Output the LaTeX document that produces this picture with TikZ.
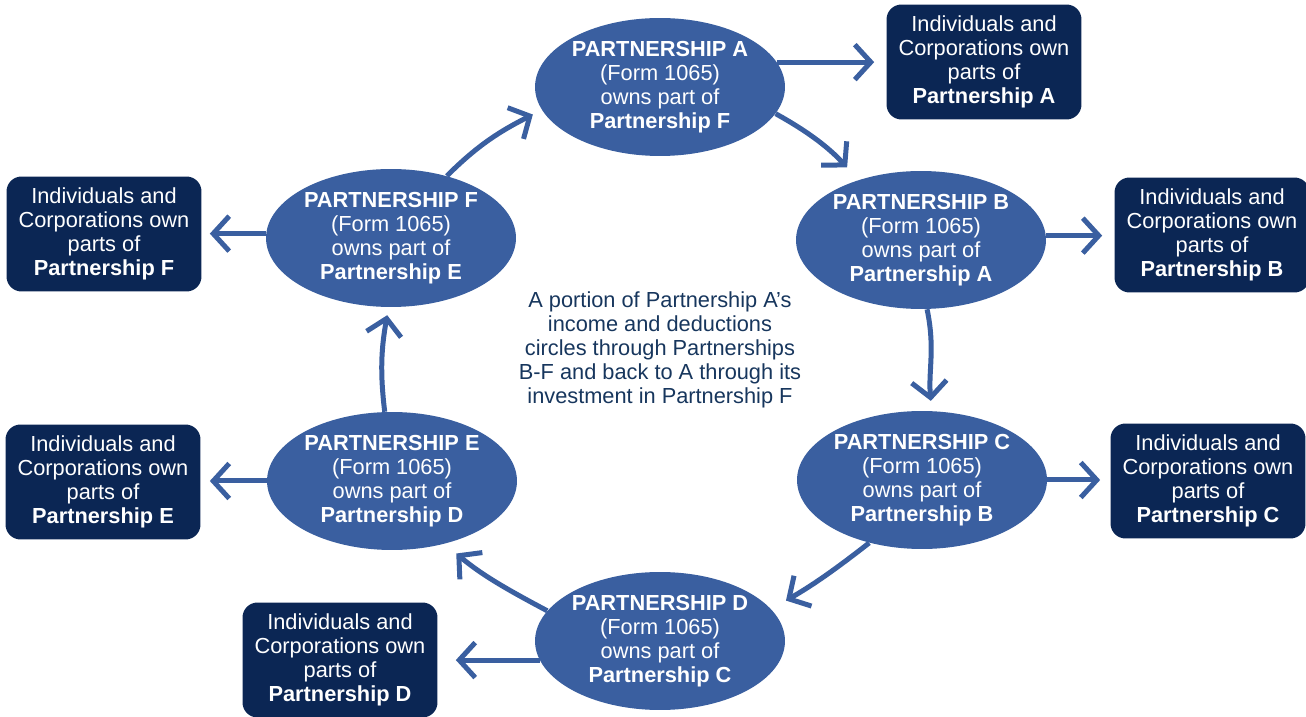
\documentclass[tikz,border=0pt]{standalone}
\usepackage{fontspec}
\setmainfont{Liberation Sans}
\usetikzlibrary{
  shapes,       % ellipse
  arrows.meta,
  positioning,
}
\definecolor{ellblue}{RGB}{58,95,160}
\definecolor{boxnavy}{RGB}{11,38,84}
\definecolor{textnavy}{RGB}{23,54,93}
\newcommand{\ptext}[2]{\textbf{PARTNERSHIP #1}\\(Form 1065)\\owns part of\\\textbf{Partnership #2}}
\newcommand{\otext}[1]{Individuals and\\Corporations own\\parts of\\\textbf{Partnership #1}}
\def\mygap{2.4mm}
\def\mygapsmall{1.6mm}
\tikzset{
  font=\fontsize{12.4}{13.7}\selectfont,
  partner/.style={
    ellipse,
    fill=ellblue,
    text=white,
    align=center,
    inner sep=0pt,
    minimum width=5cm,
    minimum height=2.76cm
  },
  owners/.style={
    rectangle,
    rounded corners=3mm,
    fill=boxnavy,
    text=white,
    align=center,
    inner sep=0pt,
    minimum width=3.9cm,
    minimum height=2.3cm
  },
  flow/.style={
    draw=ellblue,
    line width=1mm,
    -{Straight Barb[length=3.2mm,width=7mm]}
  }
}

\begin{document}
\begin{tikzpicture}[x=0.02cm,y=0.02cm]
\useasboundingbox (0,0) rectangle (1306,717);
% partnerships
\node[partner] (A) at (660,630) {\ptext{A}{F}};
\node[partner] (B) at (921,477) {\ptext{B}{A}};
\node[partner] (C) at (922,237) {\ptext{C}{B}};
\node[partner] (D) at (660,76)  {\ptext{D}{C}};
\node[partner] (E) at (392,236) {\ptext{E}{D}};
\node[partner] (F) at (391,479) {\ptext{F}{E}};
% owners
\node[owners] (oA) at (984,655)  {\otext{A}};
\node[owners] (oB) at (1212,482) {\otext{B}};
\node[owners] (oC) at (1208,236) {\otext{C}};
\node[owners] (oD) at (340,57)   {\otext{D}};
\node[owners] (oE) at (103,235)  {\otext{E}};
\node[owners] (oF) at (104,483)  {\otext{F}};
\node[text=textnavy,align=center] (note) at (660,367)
  {A portion of Partnership A’s\\income and deductions\\circles through Partnerships\\B-F and back to A through its\\investment in Partnership F};
% circle of ownership
\path[flow,shorten >=3.4mm] (A.-13) to[out=-29,in=133] (B.136);
\path[flow,shorten >=2mm]   (B.-85) to[out=-78,in=95] (C.82);
\path[flow,shorten >=3.4mm] (C.-130) to[out=-142,in=30] (D.16);
\path[flow,shorten >=3mm]   (D.165) to[out=152,in=-40] (E.-50);
\path[flow,shorten >=\mygapsmall] (E.96) to[out=97,in=-100] (F.-92);
\path[flow,shorten >=2mm]   (F.48) to[out=45,in=-153] (A.-169);
% outside owners
\path[flow,shorten >=\mygap]      (A.12) -- (A.12 -| oA.west);
\path[flow,shorten >=\mygap]      (B.2) -- (B.2 -| oB.west);
\path[flow,shorten >=2mm]         (C.east) -- (C.east -| oC.west);
\path[flow,shorten >=3.6mm]       (D.189) -- (D.189 -| oD.east);
\path[flow,shorten >=1.8mm]       (E.west) -- (E.west -| oE.east);
\path[flow,shorten >=\mygapsmall] (F.178) -- (F.178 -| oF.east);
\end{tikzpicture}
\end{document}
